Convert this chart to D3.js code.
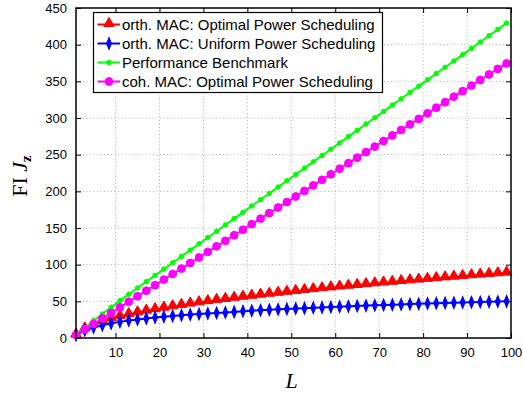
<!DOCTYPE html>
<html>
<head>
<meta charset="utf-8">
<script src="https://cdn.jsdelivr.net/npm/d3@7/dist/d3.min.js"></script>
<style>
  html, body { margin: 0; padding: 0; background: #fff; }
  svg { display: block; }
  .tick text { font-family: "Liberation Sans", Arial, Helvetica, sans-serif; font-size: 13px; fill: #000; }
</style>
</head>
<body>
<svg id="chart" width="523" height="395"></svg>
<script>
// Number of sensors L (markers at odd L)
const L = [1,3,5,7,9,11,13,15,17,19,21,23,25,27,29,31,33,35,37,39,41,43,45,47,49,
           51,53,55,57,59,61,63,65,67,69,71,73,75,77,79,81,83,85,87,89,91,93,95,97,99];

// Fisher information per scheme
const orthOptimal = [4.0,12.5,17.8,22.5,26.2,29.3,31.9,34.3,36.6,38.7,40.7,42.6,44.5,46.3,48.0,49.6,51.2,52.7,54.2,55.6,
                     57.0,58.4,59.7,61.0,62.3,63.6,64.8,66.0,67.2,68.4,69.5,70.6,71.7,72.8,73.9,75.0,76.0,77.0,78.0,79.0,
                     80.0,81.0,82.0,83.0,83.9,84.9,85.8,86.7,87.6,88.5];
const orthUniform = [4.0,10.5,14.5,17.5,20.0,22.0,23.8,25.3,26.7,28.0,29.1,30.1,31.0,31.9,32.7,33.4,34.1,34.8,35.6,36.5,
                     37.2,37.9,38.5,39.1,39.7,40.2,40.7,41.2,41.7,42.2,42.7,43.2,43.7,44.2,44.6,45.0,45.4,45.8,46.2,46.6,
                     47.0,47.4,47.8,48.1,48.4,48.8,49.1,49.4,49.7,50.0];
const benchmark = [4.3,14.0,23.5,32.8,42.0,51.0,59.6,68.2,76.8,85.4,94.0,102.6,111.2,119.8,128.4,137.0,145.6,154.2,162.8,171.4,
                   180.0,188.6,197.2,205.8,214.4,223.0,231.6,240.2,248.8,257.4,266.0,274.6,283.2,291.8,300.4,309.0,317.6,326.2,334.8,343.4,
                   352.0,360.6,369.2,377.8,386.4,395.0,403.6,412.2,420.8,429.4];
const cohOptimal = [4.0,11.6,19.1,26.7,34.2,41.8,49.4,56.9,64.5,72.0,79.6,87.2,94.7,102.3,109.8,117.4,125.0,132.5,140.1,147.6,
                    155.2,162.8,170.3,177.9,185.4,193.0,200.6,208.1,215.7,223.2,230.8,238.4,245.9,253.5,261.0,268.6,276.2,283.7,291.3,298.8,
                    306.4,314.0,321.5,329.1,336.6,344.2,351.8,359.3,366.9,374.4];

const xTicks = [10,20,30,40,50,60,70,80,90,100];
const yTicks = [0,50,100,150,200,250,300,350,400,450];

const seriesNames = ["orth. MAC: Optimal Power Scheduling",
                     "orth. MAC: Uniform Power Scheduling",
                     "Performance Benchmark",
                     "coh. MAC: Optimal Power Scheduling"];
const seriesColors = ["#ff0000", "#0000ff", "#00ff00", "#ff00ff"];
const seriesValues = [orthOptimal, orthUniform, benchmark, cohOptimal];
const seriesMarkers = ["triangle", "diamond", "dot", "circle"];

// Layout
const box = { left: 76, right: 511, top: 8, bottom: 338 };

const svg = d3.select("#chart");
const x = d3.scaleLinear().domain([1, 100]).range([box.left, box.right]);
const y = d3.scaleLinear().domain([0, 450]).range([box.bottom, box.top]);

// Dotted grid
const grid = svg.append("g");
grid.selectAll("line.gx").data(xTicks.filter(t => t < 100)).join("line")
  .attr("x1", d => x(d)).attr("x2", d => x(d))
  .attr("y1", box.top).attr("y2", box.bottom)
  .attr("stroke", "#b0b0b0").attr("stroke-width", 1).attr("stroke-dasharray", "1,2.5");
grid.selectAll("line.gy").data(yTicks.filter(t => t > 0 && t < 450)).join("line")
  .attr("x1", box.left).attr("x2", box.right)
  .attr("y1", d => y(d)).attr("y2", d => y(d))
  .attr("stroke", "#b0b0b0").attr("stroke-width", 1).attr("stroke-dasharray", "1,2.5");

// Series lines and markers
const symbolType = { triangle: d3.symbolTriangle, diamond: d3.symbolDiamond, circle: d3.symbolCircle, dot: d3.symbolCircle };
const symbolSize = { triangle: 48, diamond: 30, circle: 48, dot: 16 };

const plot = svg.append("g");
const line = d3.line().x((d, i) => x(L[i])).y(d => y(d));

function markerPath(kind) {
  return d3.symbol().type(symbolType[kind]).size(symbolSize[kind])();
}
function markerTransform(kind, px, py) {
  const dy = kind === "triangle" ? -1 : 0;
  const sc = kind === "diamond" ? " scale(0.85,1.2)" : "";
  return `translate(${px},${py + dy})${sc}`;
}

seriesValues.forEach((vals, s) => {
  const g = plot.append("g");
  g.append("path").datum(vals)
    .attr("d", line)
    .attr("fill", "none")
    .attr("stroke", seriesColors[s])
    .attr("stroke-width", 2);
  const kind = seriesMarkers[s];
  g.selectAll("path.m").data(vals).join("path")
    .attr("class", "m")
    .attr("d", markerPath(kind))
    .attr("transform", (d, i) => markerTransform(kind, x(L[i]), y(d)))
    .attr("fill", seriesColors[s])
    .attr("stroke", seriesColors[s])
    .attr("stroke-width", 1);
});

// Axes with inward ticks on all four sides
const axB = svg.append("g").attr("transform", `translate(0,${box.bottom})`)
  .call(d3.axisBottom(x).tickValues(xTicks).tickSize(-5).tickPadding(10).tickSizeOuter(0));
const axL = svg.append("g").attr("transform", `translate(${box.left},0)`)
  .call(d3.axisLeft(y).tickValues(yTicks).tickSize(-5).tickPadding(9).tickSizeOuter(0));
const axT = svg.append("g").attr("transform", `translate(0,${box.top})`)
  .call(d3.axisTop(x).tickValues(xTicks).tickSize(-5).tickFormat("").tickSizeOuter(0));
const axR = svg.append("g").attr("transform", `translate(${box.right},0)`)
  .call(d3.axisRight(y).tickValues(yTicks).tickSize(-5).tickFormat("").tickSizeOuter(0));
[axB, axL, axT, axR].forEach(a => {
  a.select(".domain").remove();
  a.selectAll(".tick line").attr("stroke", "#000").attr("stroke-width", 1);
});

svg.append("rect")
  .attr("x", box.left).attr("y", box.top)
  .attr("width", box.right - box.left).attr("height", box.bottom - box.top)
  .attr("fill", "none").attr("stroke", "#000").attr("stroke-width", 1.5);

// Axis titles
svg.append("text")
  .attr("x", (box.left + box.right) / 2 - 2).attr("y", 388)
  .attr("text-anchor", "middle")
  .attr("font-family", "'Liberation Serif', 'DejaVu Serif', serif")
  .attr("font-style", "italic")
  .attr("font-size", 22)
  .text("L");

const yl = svg.append("text")
  .attr("transform", "translate(27,176) rotate(-90)")
  .attr("text-anchor", "middle")
  .attr("font-family", "'Liberation Serif', 'DejaVu Serif', serif")
  .attr("font-size", 22);
yl.append("tspan").text("FI ");
yl.append("tspan").attr("font-style", "italic").text("J");
yl.append("tspan").attr("font-weight", "bold").attr("font-size", 15).attr("dy", 4).text("z");

// Legend
const lg = svg.append("g");
lg.append("rect")
  .attr("x", 93.5).attr("y", 12.5).attr("width", 289).attr("height", 80)
  .attr("fill", "#fff").attr("stroke", "#000").attr("stroke-width", 1.2);
const rowY = [24.5, 43.5, 62.5, 81.5];
seriesNames.forEach((name, s) => {
  const cy = rowY[s];
  lg.append("line")
    .attr("x1", 97.5).attr("x2", 120).attr("y1", cy).attr("y2", cy)
    .attr("stroke", seriesColors[s]).attr("stroke-width", 2);
  const kind = seriesMarkers[s];
  lg.append("path")
    .attr("d", markerPath(kind))
    .attr("transform", markerTransform(kind, 109, cy))
    .attr("fill", seriesColors[s]).attr("stroke", seriesColors[s]).attr("stroke-width", 1);
  lg.append("text")
    .attr("x", 122).attr("y", cy + 5)
    .attr("font-family", "'Liberation Sans', Arial, Helvetica, sans-serif")
    .attr("font-size", 15)
    .attr("fill", "#000")
    .text(name);
});
</script>
</body>
</html>
